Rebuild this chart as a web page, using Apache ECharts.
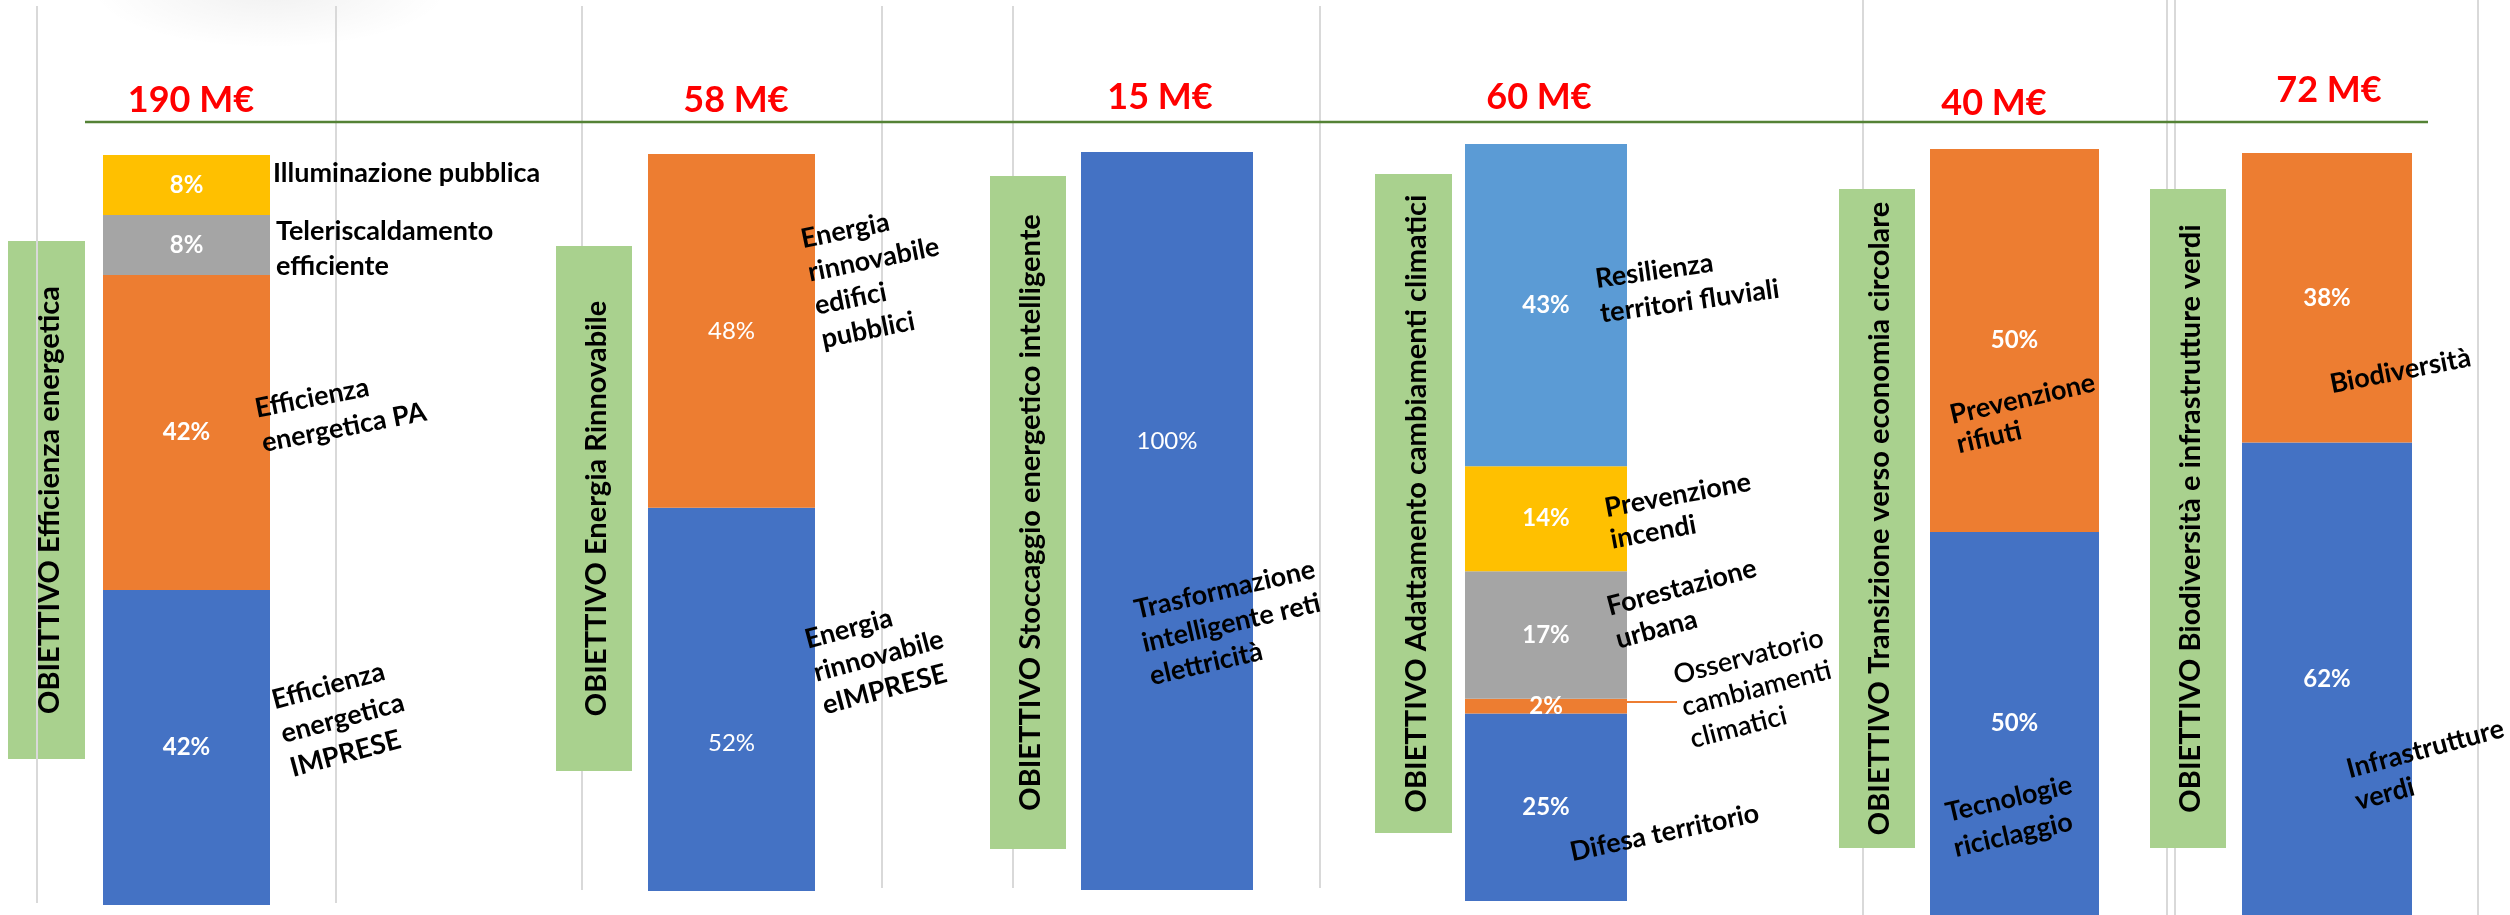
<!DOCTYPE html>
<html><head><meta charset="utf-8">
<script src="https://cdn.jsdelivr.net/npm/echarts@6/dist/echarts.min.js"></script>
<style>html,body{margin:0;padding:0;background:#fff}#c{width:2510px;height:915px}</style>
</head><body><div id="c"></div>
<script>
// ---------------- DATA ----------------
const objectives = [
  'OBIETTIVO Efficienza energetica',
  'OBIETTIVO Energia Rinnovabile',
  'OBIETTIVO Stoccaggio energetico intelligente',
  'OBIETTIVO Adattamento cambiamenti climatici',
  'OBIETTIVO Transizione verso economia circolare',
  'OBIETTIVO Biodiversità e infrastrutture verdi'
];
const totalsMEuro = [190, 58, 15, 60, 40, 72];
// segments listed bottom -> top
const segmentNames = [
  ['Efficienza\nenergetica\nIMPRESE', 'Efficienza\nenergetica PA', 'Teleriscaldamento\nefficiente', 'Illuminazione pubblica'],
  ['Energia\nrinnovabile\neIMPRESE', 'Energia\nrinnovabile\nedifici\npubblici'],
  ['Trasformazione\nintelligente reti\nelettricità'],
  ['Difesa territorio', 'Osservatorio\ncambiamenti\nclimatici', 'Forestazione\nurbana', 'Prevenzione\nincendi', 'Resilienza\nterritori fluviali'],
  ['Tecnologie\nriciclaggio', 'Prevenzione\nrifiuti'],
  ['Infrastrutture\nverdi', 'Biodiversità']
];
const segmentShares = [
  [42, 42, 8, 8],
  [52, 48],
  [100],
  [25, 2, 17, 14, 43],
  [50, 50],
  [62, 38]
];

// ---------------- STYLE / LAYOUT ----------------
const BLUE = '#4472C4', ORANGE = '#ED7D31', GRAY = '#A5A5A5', YELLOW = '#FFC000', LBLUE = '#5B9BD5';
const segmentColors = [
  [BLUE, ORANGE, GRAY, YELLOW],
  [BLUE, ORANGE],
  [BLUE],
  [BLUE, ORANGE, GRAY, YELLOW, LBLUE],
  [BLUE, ORANGE],
  [BLUE, ORANGE]
];
// [left, top, width, height] of each bar area
const gridBoxes = [
  [103, 155, 167, 750],
  [648, 154, 167, 737],
  [1081, 152, 172, 738],
  [1465, 144, 162, 757],
  [1930, 149, 169, 766],
  [2242, 153, 170, 762]
];
const labelBold = [true, false, false, true, true, true];
const labelOffsets = { '1-0': [0, 44], '2-0': [0, -80] };
const greenBoxes = [
  [8, 241, 77, 518],
  [556, 246, 76, 525],
  [990, 176, 76, 673],
  [1375, 174, 77, 659],
  [1839, 189, 76, 659],
  [2150, 189, 76, 659]
];
const totalPos = [[191, 118], [736, 118], [1160, 115], [1539, 115], [1994, 121], [2329, 108]];
// [x, y, rotationDeg, lineHeight, fontSize, fontWeight] per segment annotation
const annotLayout = [
  [[268, 684, 15, 35, 27, 'bold'], [252, 392, 11, 35, 27, 'bold'], [276, 214, 0, 35, 27, 'bold'], [273, 156, 0, 35, 27, 'bold']],
  [[801, 624, 15, 34, 27, 'bold'], [798, 223, 11.5, 34, 27, 'bold']],
  [[1131, 594, 13, 34, 27, 'bold']],
  [[1567, 836, 12, 34, 27, 'bold'], [1670, 660, 14.5, 33, 27, 600], [1603, 591, 15, 34, 27, 'bold'], [1602, 493, 10.5, 32, 27, 'bold'], [1593, 262, 8, 35, 27, 'bold']],
  [[1942, 796, 13, 36, 27, 'bold'], [1947, 401, 13, 30, 27, 'bold']],
  [[2343, 754, 15, 33, 27, 'bold'], [2327, 368, 11, 34, 27, 'bold']]
];
const grayLines = [[582, 6, 890], [882, 6, 888], [1013, 6, 888], [1320, 6, 888], [1863, 0, 915], [2167, 0, 915], [2175, 0, 915], [2478, 0, 915], [336, 6, 903]];
const FONT = 'Lato';

// ---------------- BUILD ----------------
const chart = echarts.init(document.getElementById('c'), null, { renderer: 'canvas' });
const grid = [], xAxis = [], yAxis = [], series = [];
segmentShares.forEach((vals, g) => {
  const b = gridBoxes[g];
  grid.push({ left: b[0], top: b[1], width: b[2], height: b[3], outerBoundsMode: 'none', containLabel: false });
  xAxis.push({ type: 'category', gridIndex: g, data: [objectives[g]], show: false });
  yAxis.push({ type: 'value', gridIndex: g, min: 0, max: vals.reduce((a, c) => a + c, 0), show: false, splitLine: { show: false } });
  vals.forEach((v, s) => {
    series.push({
      type: 'bar', name: segmentNames[g][s], xAxisIndex: g, yAxisIndex: g, stack: 'stk' + g,
      data: [v], barWidth: '100%', barCategoryGap: 0,
      itemStyle: { color: segmentColors[g][s] },
      label: {
        show: true, position: 'inside', formatter: v + '%', color: '#fff',
        fontFamily: FONT, fontSize: 24, fontWeight: labelBold[g] ? 'bold' : 'normal',
        offset: labelOffsets[g + '-' + s] || [0, 0]
      },
      emphasis: { disabled: true }, silent: true
    });
  });
});

const graphic = [];
// faint shadow at top (circle stretched horizontally)
graphic.push({
  type: 'circle', shape: { cx: 0, cy: 0, r: 60 }, x: 270, y: -12, scaleX: 3.0, scaleY: 1, z: 0,
  style: { fill: new echarts.graphic.RadialGradient(0.5, 0.5, 0.5, [
    { offset: 0, color: 'rgba(0,0,0,0.06)' }, { offset: 0.6, color: 'rgba(0,0,0,0.025)' }, { offset: 1, color: 'rgba(0,0,0,0)' }]) }
});
grayLines.forEach(l => graphic.push({
  type: 'line', shape: { x1: l[0], y1: l[1], x2: l[0], y2: l[2] }, z: 0,
  style: { stroke: '#D9D9D9', lineWidth: 2 }
}));
// green baseline
graphic.push({ type: 'line', shape: { x1: 85, y1: 122, x2: 2428, y2: 122 }, z: 0, style: { stroke: '#548235', lineWidth: 2.5 } });
// objective boxes
greenBoxes.forEach((b, i) => {
  graphic.push({ type: 'rect', shape: { x: b[0], y: b[1], width: b[2], height: b[3] }, z: 1, style: { fill: '#A9D18E' } });
  graphic.push({
    type: 'text', x: b[0] + b[2] / 2 + 3, y: b[1] + b[3] / 2, rotation: Math.PI / 2, z: 12,
    style: { text: objectives[i], fill: '#000', fontFamily: FONT, fontSize: 29, fontWeight: 'bold',
      align: 'center', verticalAlign: 'middle', textAlign: 'center', textVerticalAlign: 'middle' }
  });
});
// gray line crossing the first box
graphic.push({ type: 'line', shape: { x1: 37, y1: 6, x2: 37, y2: 903 }, z: 5, style: { stroke: '#D9D9D9', lineWidth: 2 } });
// totals
totalsMEuro.forEach((t, i) => graphic.push({
  type: 'text', x: totalPos[i][0], y: totalPos[i][1], z: 12,
  style: { text: t + ' M€', fill: '#FF0000', fontFamily: FONT, fontSize: 36, fontWeight: 'bold',
    align: 'center', verticalAlign: 'bottom', textAlign: 'center', textVerticalAlign: 'bottom' }
}));
// leader line for Osservatorio
graphic.push({ type: 'line', shape: { x1: 1627, y1: 702, x2: 1677, y2: 702 }, z: 6, style: { stroke: ORANGE, lineWidth: 2 } });
// segment annotations
segmentNames.forEach((names, g) => names.forEach((n, s) => {
  const a = annotLayout[g][s];
  graphic.push({
    type: 'text', x: a[0], y: a[1], rotation: a[2] * Math.PI / 180, z: 12,
    style: { text: n, fill: '#000', fontFamily: FONT, fontSize: a[4], fontWeight: a[5], lineHeight: a[3],
      align: 'left', verticalAlign: 'top', textAlign: 'left', textVerticalAlign: 'top' }
  });
}));

chart.setOption({
  animation: false,
  backgroundColor: '#fff',
  tooltip: { show: false },
  grid, xAxis, yAxis, series, graphic
});
</script>
</body></html>
